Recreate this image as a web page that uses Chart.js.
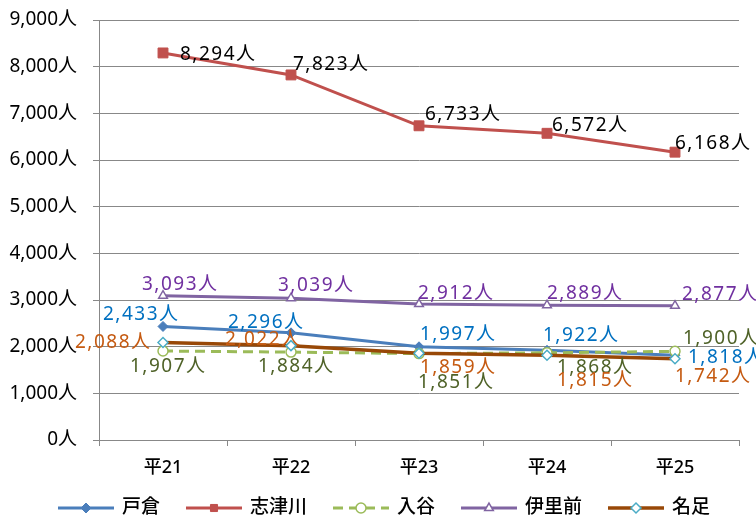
<!DOCTYPE html>
<html>
<head>
<meta charset="utf-8">
<script src="https://cdn.jsdelivr.net/npm/chart.js@4/dist/chart.umd.min.js"></script>
<style>
  html, body { margin: 0; padding: 0; background: #fff; }
</style>
</head>
<body>
<canvas id="chart" width="756" height="517"></canvas>
<script>
// データ
const years = ['平21', '平22', '平23', '平24', '平25'];
const seriesNames = ['戸倉', '志津川', '入谷', '伊里前', '名足'];
const tokura = [2433, 2296, 1997, 1922, 1818];
const shizugawa = [8294, 7823, 6733, 6572, 6168];
const iriya = [1907, 1884, 1851, 1868, 1900];
const isatomae = [3093, 3039, 2912, 2889, 2877];
const natari = [2088, 2022, 1859, 1815, 1742];

const FONT = "'Noto Sans', 'Noto Sans CJK JP', sans-serif";

// ラベルの位置 (左端のずれ, 中心のずれ)
const labelOffsets = [
  [[-60, -12], [-63, -10], [1, -12], [-4, -15], [13, 2]],
  [[17, 2], [2, -10], [6, -11], [5, -8], [0, -9]],
  [[-33, 16], [-33, 15], [-1, 29], [10, 15], [8, -13]],
  [[-21, -11], [-13, -13], [-1, -11], [0, -12], [7, -11]],
  [[-88, 0], [-66, -6], [1, 14], [10, 25], [0, 18]]
];
const labelColors = ['#0070c0', '#000000', '#4f6228', '#7030a0', '#c55a11'];

// レイアウト
const plotTop = 20, plotBottom = 440, xAxisHeight = 44;
const legendMidY = 508, legendMidX = 384, legendLine = 56, legendGap = 8, legendSpacing = 26;

const fmt = v => v.toLocaleString('en-US') + '人';

// 凡例のアイコン (線 + マーカー)
function drawLegendIcon(g, ds, x, y) {
  g.save();
  g.strokeStyle = ds.borderColor;
  g.lineWidth = ds.borderWidth;
  g.setLineDash(ds.borderDash || []);
  g.beginPath();
  g.moveTo(x, y);
  g.lineTo(x + legendLine, y);
  g.stroke();
  g.setLineDash([]);
  g.fillStyle = ds.pointBackgroundColor;
  g.strokeStyle = ds.pointBorderColor;
  g.lineWidth = ds.pointBorderWidth;
  Chart.helpers.drawPoint(g, {
    pointStyle: ds.pointStyle,
    radius: Math.min(ds.pointRadius, 5),
    rotation: 0,
    borderWidth: ds.pointBorderWidth
  }, x + legendLine / 2, y);
  g.restore();
}

const legendPlugin = {
  id: 'bottomLegend',
  afterDraw(chart) {
    const ctx = chart.ctx;
    ctx.save();
    ctx.font = '500 19px ' + FONT;
    ctx.textBaseline = 'middle';
    ctx.textAlign = 'left';
    ctx.fillStyle = '#000';
    const dsets = chart.data.datasets;
    const widths = dsets.map(ds => legendLine + legendGap + ctx.measureText(ds.label).width);
    const total = widths.reduce((a, b) => a + b, 0) + legendSpacing * (dsets.length - 1);
    let x = legendMidX - total / 2;
    dsets.forEach((ds, i) => {
      drawLegendIcon(ctx, ds, x, legendMidY);
      ctx.fillText(ds.label, x + legendLine + legendGap, legendMidY);
      x += widths[i] + legendSpacing;
    });
    ctx.restore();
  }
};

const datasets = [
  {
    label: seriesNames[0], data: tokura,
    borderColor: '#4a7ebb', borderWidth: 3,
    pointStyle: 'rectRot', pointRadius: 5,
    pointBackgroundColor: '#4a7ebb', pointBorderColor: '#4a7ebb', pointBorderWidth: 1,
    order: 5
  },
  {
    label: seriesNames[1], data: shizugawa,
    borderColor: '#c0504d', borderWidth: 3,
    pointStyle: 'rect', pointRadius: 7,
    pointBackgroundColor: '#c0504d', pointBorderColor: '#c0504d', pointBorderWidth: 1,
    order: 4
  },
  {
    label: seriesNames[2], data: iriya,
    borderColor: '#9bbb59', borderWidth: 3, borderDash: [10, 6],
    pointStyle: 'circle', pointRadius: 5,
    pointBackgroundColor: '#ffffff', pointBorderColor: '#9bbb59', pointBorderWidth: 1.5,
    order: 3
  },
  {
    label: seriesNames[3], data: isatomae,
    borderColor: '#8064a2', borderWidth: 3,
    pointStyle: 'triangle', pointRadius: 5,
    pointBackgroundColor: '#ffffff', pointBorderColor: '#8064a2', pointBorderWidth: 1.5,
    order: 2
  },
  {
    label: seriesNames[4], data: natari,
    borderColor: '#984807', borderWidth: 3.5,
    pointStyle: 'rectRot', pointRadius: 5,
    pointBackgroundColor: '#ffffff', pointBorderColor: '#4bacc6', pointBorderWidth: 1.5,
    order: 1
  }
];

const dataLabels = {
  id: 'dataLabels',
  afterDatasetsDraw(chart) {
    const ctx = chart.ctx;
    ctx.save();
    ctx.font = '19px ' + FONT;
    ctx.letterSpacing = '1.5px';
    ctx.textAlign = 'left';
    ctx.textBaseline = 'middle';
    chart.data.datasets.forEach((ds, i) => {
      const meta = chart.getDatasetMeta(i);
      meta.data.forEach((pt, j) => {
        const off = labelOffsets[i][j];
        ctx.fillStyle = labelColors[i];
        ctx.fillText(fmt(ds.data[j]), pt.x + off[0], pt.y + off[1]);
      });
    });
    ctx.restore();
  }
};

const chart = new Chart(document.getElementById('chart'), {
  type: 'line',
  data: { labels: years, datasets: datasets },
  options: {
    responsive: false,
    animation: false,
    layout: { padding: { top: plotTop, right: 17, left: 0, bottom: 517 - plotBottom - xAxisHeight } },
    elements: { line: { tension: 0 } },
    scales: {
      x: {
        offset: true,
        grid: { offset: true, drawOnChartArea: false, color: '#888888', tickLength: 6 },
        border: { color: '#888888' },
        ticks: { color: '#000', padding: 11, font: { family: FONT, size: 18, weight: 500 } },
        afterFit(scale) { scale.height = xAxisHeight; }
      },
      y: {
        min: 0, max: 9000,
        grid: { color: '#888888', tickLength: 6 },
        border: { color: '#888888' },
        ticks: {
          stepSize: 1000, padding: 16, color: '#000',
          font: { family: FONT, size: 19 },
          callback: v => fmt(v)
        },
        afterFit(scale) {
          scale.width = 99;
          scale.paddingTop = 0;
          scale.paddingBottom = 0;
        }
      }
    },
    plugins: {
      tooltip: { enabled: false },
      legend: { display: false }
    }
  },
  plugins: [dataLabels, legendPlugin]
});
</script>
</body>
</html>
